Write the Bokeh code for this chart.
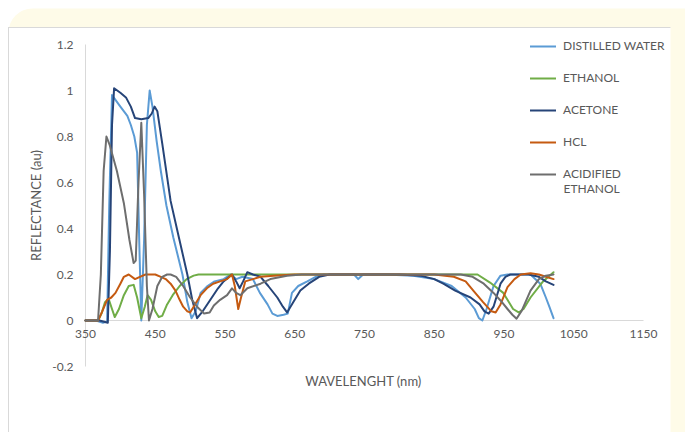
from bokeh.plotting import figure
from bokeh.models import (Range1d, FixedTicker, PrintfTickFormatter, BoxAnnotation,
                          Legend, LegendItem, Label)
from bokeh.embed import file_html
from bokeh.resources import INLINE

# ---------------- data ----------------
x_ticks = [350, 450, 550, 650, 750, 850, 950, 1050, 1150]
y_ticks = [-0.2, 0, 0.2, 0.4, 0.6, 0.8, 1.0, 1.2]

series_names = ["DISTILLED WATER", "ETHANOL", "ACETONE", "HCL", "ACIDIFIED ETHANOL"]
series_colors = ["#5B9BD5", "#70AD47", "#264478", "#C55A11", "#6E6E6E"]

wl_water = [350, 365, 375, 381, 384, 388, 400, 410, 415, 420, 424, 427, 430, 434, 438, 442,
            446, 452, 458, 466, 476, 489, 496, 502, 508, 515, 525, 535, 548, 558, 566, 575,
            590, 600, 611, 618, 625, 634, 640, 646, 655, 668, 680, 692, 720, 735, 741, 748,
            780, 820, 850, 875, 895, 908, 914, 919, 925, 935, 945, 955, 970, 988, 1002, 1010,
            1015, 1021]
r_water = [0, 0, -0.01, -0.005, 0.5, 0.98, 0.93, 0.89, 0.85, 0.8, 0.73, 0.35, 0.0, 0.35, 0.85, 1.0,
           0.93, 0.78, 0.65, 0.5, 0.36, 0.2, 0.08, 0.01, 0.04, 0.12, 0.15, 0.17, 0.18, 0.2, 0.18, 0.19,
           0.18, 0.12, 0.07, 0.03, 0.02, 0.025, 0.03, 0.12, 0.15, 0.17, 0.19, 0.2, 0.2, 0.2, 0.18, 0.2,
           0.2, 0.195, 0.18, 0.15, 0.1, 0.05, 0.01, 0.0, 0.05, 0.15, 0.195, 0.2, 0.2, 0.2, 0.16, 0.1,
           0.06, 0.01]

wl_ethanol = [350, 368, 373, 378, 383, 388, 392, 398, 405, 412, 419, 424, 430, 435, 439, 444,
              450, 455, 460, 467, 475, 485, 495, 505, 512, 520, 600, 700, 800, 880, 905, 912,
              930, 949, 963, 971, 978, 988, 1006, 1021]
r_ethanol = [0, 0, 0.03, 0.08, 0.095, 0.05, 0.015, 0.05, 0.11, 0.15, 0.155, 0.1, 0.01, 0.06, 0.11, 0.09,
             0.04, 0.015, 0.02, 0.07, 0.11, 0.15, 0.18, 0.195, 0.2, 0.2, 0.2, 0.2, 0.2, 0.2, 0.2, 0.2,
             0.165, 0.12, 0.05, 0.035, 0.05, 0.1, 0.17, 0.21]

wl_acetone = [350, 370, 382, 385, 388, 391, 400, 408, 415, 421, 430, 440, 445, 449, 453, 460,
              472, 484, 496, 503, 510, 518, 529, 540, 548, 556, 560, 566, 571, 576, 582, 590,
              601, 612, 625, 633, 639, 648, 658, 670, 685, 700, 750, 800, 830, 850, 863, 880,
              902, 915, 922, 928, 935, 945, 952, 959, 970, 985, 1000, 1010, 1021]
r_acetone = [0, 0, -0.01, 0.3, 0.85, 1.01, 0.99, 0.97, 0.93, 0.88, 0.875, 0.88, 0.9, 0.93, 0.91, 0.77,
             0.52, 0.36, 0.2, 0.09, 0.01, 0.04, 0.09, 0.14, 0.17, 0.19, 0.2, 0.17, 0.14, 0.17, 0.21, 0.2,
             0.19, 0.15, 0.1, 0.06, 0.035, 0.08, 0.13, 0.16, 0.19, 0.2, 0.2, 0.2, 0.195, 0.18, 0.16, 0.13,
             0.1, 0.07, 0.04, 0.03, 0.06, 0.16, 0.19, 0.2, 0.2, 0.2, 0.19, 0.17, 0.155]

wl_hcl = [350, 368, 374, 381, 387, 393, 400, 405, 412, 421, 428, 436, 450, 458, 465, 472,
          479, 485, 490, 496, 500, 507, 515, 524, 533, 543, 553, 560, 564, 569, 573, 579,
          590, 601, 620, 650, 700, 800, 850, 878, 895, 906, 920, 932, 938, 945, 955, 965,
          974, 988, 1000, 1010, 1021]
r_hcl = [0, 0, 0.04, 0.09, 0.1, 0.12, 0.16, 0.19, 0.2, 0.18, 0.19, 0.2, 0.2, 0.19, 0.18, 0.16,
         0.13, 0.09, 0.06, 0.04, 0.035, 0.07, 0.11, 0.14, 0.16, 0.17, 0.18, 0.2, 0.15, 0.05, 0.1, 0.17,
         0.18, 0.19, 0.195, 0.2, 0.2, 0.2, 0.2, 0.19, 0.17, 0.13, 0.08, 0.04, 0.035, 0.07, 0.145, 0.18,
         0.2, 0.205, 0.2, 0.19, 0.18]

wl_acid = [350, 368, 372, 376, 380, 385, 395, 405, 413, 419, 422, 426, 430, 434, 438, 441,
           446, 453, 460, 467, 472, 480, 490, 500, 510, 520, 528, 534, 543, 553, 560, 566,
           572, 582, 601, 615, 639, 660, 700, 800, 860, 888, 905, 921, 935, 945, 955, 962,
           968, 975, 988, 1000, 1010, 1021]
r_acid = [0, 0, 0.2, 0.65, 0.8, 0.76, 0.65, 0.51, 0.35, 0.25, 0.26, 0.6, 0.86, 0.55, 0.15, 0.0,
          0.05, 0.15, 0.19, 0.2, 0.2, 0.19, 0.15, 0.1, 0.06, 0.03, 0.035, 0.065, 0.09, 0.11, 0.14, 0.12,
          0.11, 0.14, 0.16, 0.18, 0.195, 0.2, 0.2, 0.2, 0.2, 0.2, 0.19, 0.16, 0.12, 0.087, 0.05, 0.025,
          0.008, 0.04, 0.13, 0.18, 0.195, 0.2]

all_x = [wl_water, wl_ethanol, wl_acetone, wl_hcl, wl_acid]
all_y = [r_water, r_ethanol, r_acetone, r_hcl, r_acid]

# ---------------- layout constants ----------------
W, H = 685, 432
PX_L, PX_R = 85, 643          # canvas x of 350 nm and 1150 nm
PY_0, PX_PER_Y = 320, 230.0   # canvas y of reflectance 0, pixels per unit
px_per_nm = (PX_R - PX_L) / (x_ticks[-1] - x_ticks[0])
x_start = x_ticks[0] - PX_L / px_per_nm
x_end = x_ticks[-1] + (W - PX_R) / px_per_nm
y_end = PY_0 / PX_PER_Y
y_start = -(H - PY_0) / PX_PER_Y

FONT = "Lato"
TXT = "#595959"
AXIS_COL = "#D9D9D9"

p = figure(width=W, height=H, output_backend="svg", toolbar_location=None,
           x_range=Range1d(x_start, x_end), y_range=Range1d(y_start, y_end),
           min_border_left=0, min_border_right=0, min_border_top=0, min_border_bottom=0)
p.border_fill_color = "white"
p.background_fill_color = "white"
p.outline_line_color = None
p.xgrid.visible = False
p.ygrid.visible = False

def screen_box(l, r, t, b, **kw):
    # l, r, t, b in canvas pixels (top-left origin)
    return BoxAnnotation(left=l, right=r, top=H - t, bottom=H - b,
                         left_units="screen", right_units="screen",
                         top_units="screen", bottom_units="screen",
                         fill_alpha=1, line_color=None, level="underlay", **kw)

p.add_layout(screen_box(8, 720, 8, 460, fill_color="#FEFBE8", border_radius=24))
p.add_layout(screen_box(8, 670, 27, 460, fill_color="white"))
p.add_layout(screen_box(8, 670, 26.5, 27.5, fill_color=AXIS_COL))
p.add_layout(screen_box(7.5, 8.5, 26.5, 460, fill_color=AXIS_COL))

# axis lines (from the tick extents)
p.segment(x0=[x_ticks[0]], y0=[0], x1=[x_ticks[-1]], y1=[0], line_color=AXIS_COL, line_width=1)
p.segment(x0=[x_ticks[0]], y0=[y_ticks[0]], x1=[x_ticks[0]], y1=[y_ticks[-1]],
          line_color=AXIS_COL, line_width=1)

items = []
for name, col, xs, ys in zip(series_names, series_colors, all_x, all_y):
    r = p.line(xs, ys, line_color=col, line_width=2, line_join="round", line_cap="round")
    # the last legend label wraps onto a second line, as in the reference
    first_line = name.split(" ")[0] if name == series_names[-1] else name
    items.append(LegendItem(label=first_line, renderers=[r]))

LEG_TOP, LEG_N, LEG_ITEM_H, LEG_SPACING = 38, len(series_names), 15, 17
leg_height = LEG_N * LEG_ITEM_H + (LEG_N - 1) * LEG_SPACING
legend = Legend(items=items, location=(530, H - LEG_TOP - leg_height),
                border_line_color=None, background_fill_alpha=0, padding=0, margin=0,
                spacing=LEG_SPACING, glyph_width=26, glyph_height=14, label_standoff=7,
                label_text_font=FONT, label_text_font_size="12px", label_text_color=TXT,
                label_height=14)
p.add_layout(legend)
# second line of the wrapped legend label
p.add_layout(Label(x=563, y=H - 188, x_units="screen", y_units="screen",
                   text=series_names[-1].split(" ", 1)[1], text_align="left", text_baseline="middle",
                   text_font=FONT, text_font_size="12px", text_color=TXT))

# axes (pinned at the data origin)
xa = p.xaxis[0]
xa.fixed_location = 0
xa.ticker = FixedTicker(ticks=x_ticks)
ya = p.yaxis[0]
ya.fixed_location = x_ticks[0]
ya.ticker = FixedTicker(ticks=y_ticks)
ya.formatter = PrintfTickFormatter(format="%g")
for ax in (xa, ya):
    ax.axis_line_color = None
    ax.major_tick_line_color = None
    ax.minor_tick_line_color = None
    ax.major_tick_out = 0
    ax.major_tick_in = 0
    ax.major_label_text_font = FONT
    ax.major_label_text_font_size = "12px"
    ax.major_label_text_color = TXT
xa.major_label_standoff = 9
ya.major_label_standoff = 12

p.add_layout(Label(x=363, y=H - 380, x_units="screen", y_units="screen",
                   text="WAVELENGHT (nm)", text_align="center", text_baseline="middle",
                   text_font=FONT, text_font_size="13px", text_color=TXT))
p.add_layout(Label(x=35, y=H - 205, x_units="screen", y_units="screen",
                   text="REFLECTANCE (au)", text_align="center", text_baseline="middle",
                   angle=90, angle_units="deg",
                   text_font=FONT, text_font_size="13px", text_color=TXT))

open("out.html", "w").write(file_html(p, INLINE))
